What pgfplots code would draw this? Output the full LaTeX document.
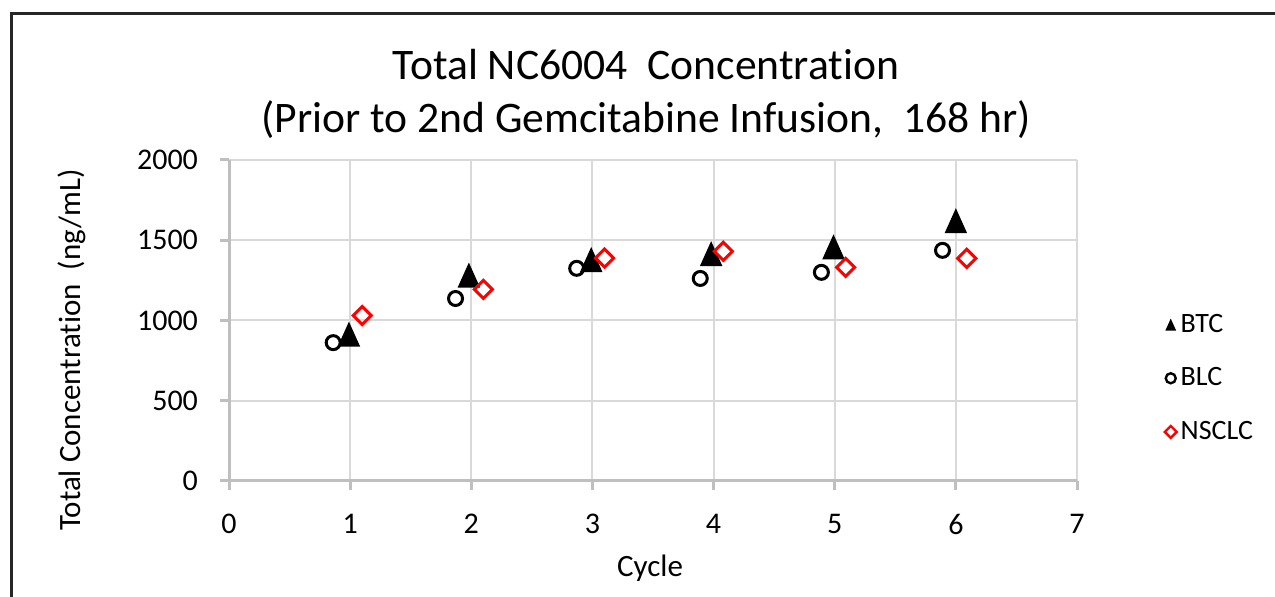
\documentclass[border=0pt]{standalone}
\usepackage{fontspec}
\setmainfont{Carlito}[Ligatures=NoCommon]
\usepackage{pgfplots}
\pgfplotsset{compat=1.18}
\definecolor{gridc}{HTML}{D9D9D9}
\definecolor{axc}{HTML}{BFBFBF}
\definecolor{nsred}{HTML}{FF0000}
\pgfdeclareplotmark{xltri}{%
  \pgfpathmoveto{\pgfqpoint{0pt}{\pgfplotmarksize}}%
  \pgfpathlineto{\pgfqpoint{0.9\pgfplotmarksize}{-\pgfplotmarksize}}%
  \pgfpathlineto{\pgfqpoint{-0.9\pgfplotmarksize}{-\pgfplotmarksize}}%
  \pgfpathclose\pgfusepathqfill}
\begin{document}
\begin{tikzpicture}
\useasboundingbox (0pt,0pt) rectangle (637.5pt,-298.5pt);
\draw[line width=1.5pt, black!85] (5.5pt,-320pt) -- (5.5pt,-6.75pt) -- (660pt,-6.75pt);
\begin{axis}[
  at={(114.5pt,-240.5pt)}, anchor=south west,
  scale only axis, width=424pt, height=160.5pt,
  xmin=0, xmax=7, ymin=0, ymax=2000,
  xtick={0,1,...,7}, ytick={0,500,...,2000},
  grid=major, major grid style={gridc, line width=1pt},
  axis lines=left, axis line style={axc, line width=1.5pt, -},
  tick style={axc, line width=1.5pt}, tick align=outside, major tick length=4.5pt,
  tick label style={font=\fontsize{15}{17}\selectfont},
  /pgf/number format/assume math mode=true,
  /pgf/number format/1000 sep={},
  xticklabel style={yshift=-8.5pt},
  yticklabel style={xshift=-7.5pt},
  legend cell align=left,
  legend style={at={(1.096,0.32)}, anchor=west, draw=none, fill=none,
    font=\fontsize{14}{16}\selectfont, row sep=12.25pt},
]
\addplot[only marks, mark=xltri, mark size=6.25pt, black, forget plot] coordinates {
(0.99,915) (1.98,1283) (2.99,1380) (3.98,1417) (4.99,1459) (6.00,1622)};
\addplot[only marks, mark=o, mark size=3.5pt, black, mark options={line width=1.5pt}, forget plot] coordinates {
(0.86,862) (1.87,1137) (2.87,1325) (3.89,1262) (4.89,1300) (5.89,1437)};
\addplot[only marks, mark=square, mark size=3.2pt, nsred, mark options={rotate=45, line width=1.5pt}, forget plot] coordinates {
(1.10,1031) (2.10,1194) (3.10,1389) (4.08,1431) (5.09,1331) (6.09,1387)};
\addlegendimage{only marks, mark=xltri, mark size=3pt, black}
\addlegendentry{BTC}
\addlegendimage{only marks, mark=o, mark size=2.5pt, black, mark options={line width=1.2pt}}
\addlegendentry{BLC}
\addlegendimage{only marks, mark=square, mark size=2.1pt, nsred, mark options={rotate=45, line width=1.2pt}}
\addlegendentry{NSCLC}
\end{axis}
\node[anchor=base, font=\fontsize{21.8}{26}\selectfont] at (323pt,-40pt) {Total NC6004~ Concentration};
\node[anchor=base, font=\fontsize{21.8}{26}\selectfont] at (323pt,-66.5pt) {(Prior to 2nd Gemcitabine Infusion,~ 168 hr)};
\node[rotate=90, font=\fontsize{15.5}{18}\selectfont] at (36pt,-175pt) {Total Concentration~ (ng/mL)};
\node[anchor=base, font=\fontsize{15.5}{18}\selectfont] at (325pt,-288.5pt) {Cycle};
\end{tikzpicture}
\end{document}
